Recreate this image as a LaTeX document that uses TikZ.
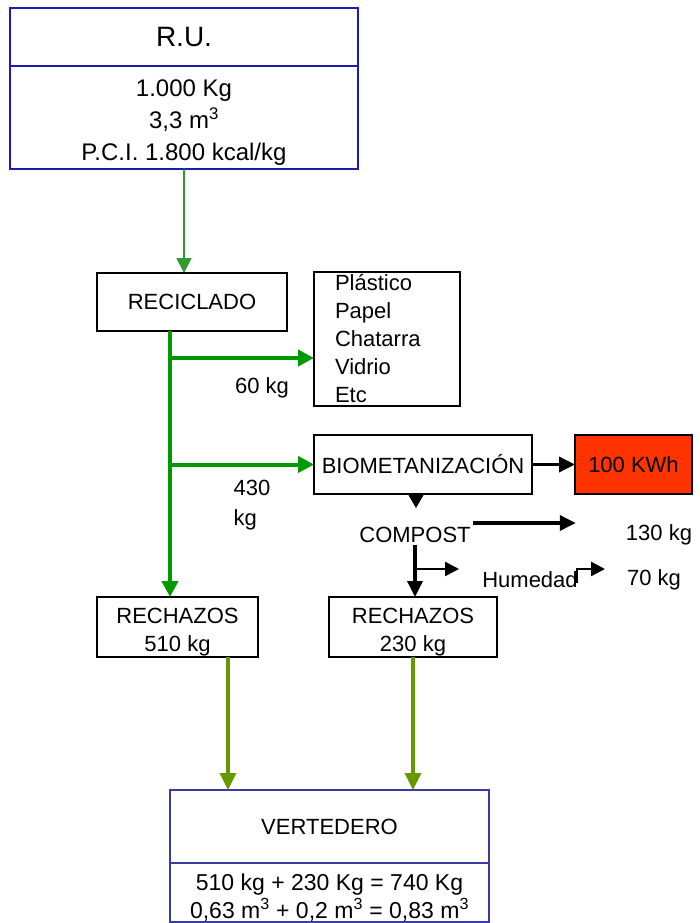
\documentclass[tikz,border=0pt]{standalone}
\usepackage{fontspec}
\setmainfont{Liberation Sans}
\usetikzlibrary{arrows.meta,positioning}
\definecolor{RUBlue}{HTML}{1C1CB4}
\definecolor{VertBlue}{HTML}{3A3AA8}
\definecolor{FlowGreen}{HTML}{009900}
\definecolor{ThinGreen}{HTML}{339933}
\definecolor{Olive}{HTML}{669900}
\definecolor{KWhRed}{HTML}{FF3300}
\newcommand{\fsz}[2]{\fontsize{#1}{#2}\selectfont}
\newcommand{\lift}[1]{\rule{0pt}{#1}}

\begin{document}
\begin{tikzpicture}[x=1pt, y=-1pt,
    font=\fsz{22}{28},
    box/.style={draw=black, line width=1.5pt, align=center, outer sep=0pt, inner sep=0pt},
    bluebox/.style={draw=RUBlue, line width=2pt, align=center, outer sep=0pt, inner sep=0pt},
    label/.style={align=center, inner sep=2pt},
    thinarr/.style={-{Triangle[length=15pt,width=15pt]}, line width=1.5pt, draw=ThinGreen},
    grarr/.style={-{Triangle[length=16pt,width=16pt]}, line width=4pt, draw=FlowGreen},
    olarr/.style={-{Triangle[length=17pt,width=16pt]}, line width=3.5pt, draw=Olive},
    blkarr/.style={-{Triangle[length=16pt,width=15pt]}, line width=3.5pt, draw=black},
    smallarr/.style={-{Triangle[length=14pt,width=14pt]}, line width=2.5pt, draw=black}
]
\useasboundingbox (0,0) rectangle (700,923);

% R.U. box
\node[bluebox, minimum width=348pt, minimum height=58pt, font=\fsz{28}{32}] (ru) at (184,37) {R.U.};
\node[bluebox, minimum width=348pt, minimum height=103pt, font=\fsz{24}{32}, below=0pt of ru] (rudata)
  {\lift{27pt}1.000 Kg\\3,3 m\textsuperscript{3}\\P.C.I. 1.800 kcal/kg};

% process boxes
\node[box, minimum width=190pt, minimum height=58pt] (recic) at (192,302) {RECICLADO};
\node[box, minimum width=146pt, minimum height=134pt, text width=104pt, align=left] (plast) at (387,339)
  {Plástico\\Papel\\Chatarra\\Vidrio\\Etc};
\node[box, minimum width=218pt, minimum height=59pt] (bio) at (423,464.5) {BIOMETANIZACIÓN};
\node[box, fill=KWhRed, minimum width=117pt, minimum height=59pt] (kwh) at (633.5,464.5) {100 KWh};
\node[box, minimum width=161pt, minimum height=60pt] (rech1) at (177.5,627) {\lift{26pt}RECHAZOS\\510 kg};
\node[box, minimum width=168pt, minimum height=60pt] (rech2) at (413,627) {\lift{26pt}RECHAZOS\\230 kg};

% vertedero
\node[bluebox, draw=VertBlue, minimum width=319pt, minimum height=73pt] (vert) at (329.5,826.5) {VERTEDERO};
\node[bluebox, draw=VertBlue, minimum width=319pt, minimum height=59pt, font=\fsz{23}{28}, below=0pt of vert] (vertdata)
  {\lift{27pt}510 kg + 230 Kg = 740 Kg\\0,63 m\textsuperscript{3} + 0,2 m\textsuperscript{3} = 0,83 m\textsuperscript{3}};

% labels
\node[label] (w60) at (262,388) {60 kg};
\node[label, align=left, font=\fsz{22}{30}] (w430) at (252,505) {430\\kg};
\node[label] (comp) at (415,535) {COMPOST};
\node[label] (w130) at (659,535) {130 kg};
\node[label] (hum) at (530,580) {Humedad};
\node[label] (w70) at (654,580) {70 kg};

% green flow
\coordinate (trunk) at ([xshift=-22pt]recic.south);
\coordinate (b1) at (170,358);
\coordinate (b2) at (170,464.5);
\draw[thinarr] (rudata.south) -- (rudata.south |- recic.north);
\draw[grarr] (trunk) -- (trunk |- rech1.north);
\draw[grarr] (b1) -- (b1 -| plast.west);
\draw[grarr] (b2) -- (bio.west);

% black flow
\coordinate (hum1) at (459,569);
\coordinate (hum2) at (605,569);
\draw[blkarr] (bio.east) -- (kwh.west);
\draw[-{Triangle[length=14pt,width=16pt]}, line width=1pt] ([xshift=-7pt]bio.south) -- ++(0,14);
\draw[blkarr] ([yshift=12pt]comp.east) -- ([xshift=-48pt,yshift=12pt]w130.west);
\draw[blkarr] (comp.south) -- (comp.south |- rech2.north);
\draw[smallarr] (comp.south |- hum1) -- (hum1);
\draw[smallarr] ([xshift=-3pt,yshift=-3pt]hum.east) |- (hum2);

% olive flow to vertedero
\draw[olarr] ([xshift=50.5pt]rech1.south) -- ([xshift=50.5pt]rech1.south |- vert.north);
\draw[olarr] (rech2.south) -- (rech2.south |- vert.north);
\end{tikzpicture}
\end{document}
